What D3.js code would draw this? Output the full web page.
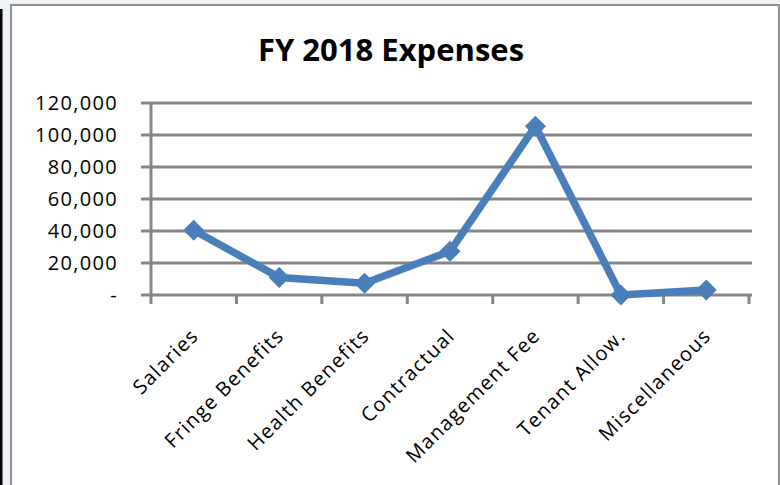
<!DOCTYPE html>
<html>
<head>
<meta charset="utf-8">
<script src="https://cdn.jsdelivr.net/npm/d3@7"></script>
<style>
  html, body { margin: 0; padding: 0; background: #eef2f8; }
  svg { display: block; }
</style>
</head>
<body>
<div id="chart"></div>
<script>
const categories = ["Salaries", "Fringe Benefits", "Health Benefits", "Contractual",
    "Management Fee", "Tenant Allow.", "Miscellaneous"];
const expenses = [40500, 11000, 7400, 27300, 105500, 0, 3100];
const yTicks = [0, 20000, 40000, 60000, 80000, 100000, 120000];

const W = 780, H = 485;
const margin = { top: 103, right: 31, bottom: 190, left: 151 },
    width = 749 - margin.left,
    height = 295 - margin.top;

const svg = d3.select("#chart").append("svg")
    .attr("width", W)
    .attr("height", H);

// window chrome around the chart
svg.append("rect")
    .attr("x", 0).attr("y", 9)
    .attr("width", 2.5).attr("height", H - 9)
    .attr("fill", "#000");
svg.append("rect")
    .attr("x", 11).attr("y", 5)
    .attr("width", W - 12).attr("height", H)
    .attr("fill", "#fff")
    .attr("stroke", "#8e8e8e")
    .attr("stroke-width", 2);

svg.append("text")
    .attr("x", 391)
    .attr("y", 61)
    .attr("text-anchor", "middle")
    .style("font-family", "'Open Sans', sans-serif")
    .style("font-weight", "bold")
    .style("font-size", "31px")
    .style("fill", "#000")
    .text("FY 2018 Expenses");

const g = svg.append("g")
    .attr("transform", "translate(" + margin.left + "," + margin.top + ")");

const x = d3.scaleBand()
    .domain(categories)
    .range([0, width]);

const y = d3.scaleLinear()
    .domain([0, 120000])
    .range([height, 0]);

// horizontal gridlines with the left tick stubs
g.append("g")
    .selectAll("line")
    .data(yTicks)
    .enter().append("line")
    .attr("x1", -10)
    .attr("x2", width + 3)
    .attr("y1", d => y(d))
    .attr("y2", d => y(d))
    .attr("stroke", "#868686")
    .attr("stroke-width", 3);

// y axis
const yAxis = g.append("g")
    .call(d3.axisLeft(y)
        .tickValues(yTicks)
        .tickSize(0)
        .tickPadding(33)
        .tickFormat(d => d === 0 ? "-" : d3.format(",")(d)));
yAxis.select(".domain")
    .attr("stroke", "#868686")
    .attr("stroke-width", 3)
    .attr("d", "M0," + (height + 9) + "V0");
yAxis.selectAll("text")
    .style("font-family", "'Open Sans', sans-serif")
    .style("font-size", "20px")
    .style("letter-spacing", "1.3px")
    .style("fill", "#000");

// x axis ticks on the category boundaries
const xAxis = g.append("g")
    .attr("transform", "translate(0," + height + ")");
xAxis.selectAll("line")
    .data(categories)
    .enter().append("line")
    .attr("x1", (d, i) => x.step() * (i + 1))
    .attr("x2", (d, i) => x.step() * (i + 1))
    .attr("y1", 0)
    .attr("y2", 9)
    .attr("stroke", "#868686")
    .attr("stroke-width", 3);

xAxis.selectAll("text")
    .data(categories)
    .enter().append("text")
    .attr("transform", d => "translate(" + (x(d) + x.bandwidth() / 2 + 6) + ",42) rotate(-45)")
    .attr("text-anchor", "end")
    .style("font-family", "'Open Sans', sans-serif")
    .style("font-size", "20px")
    .style("letter-spacing", "1.3px")
    .style("fill", "#000")
    .text(d => d);

const cx = d => x(d) + x.bandwidth() / 2;

const line = d3.line()
    .x((d, i) => cx(categories[i]))
    .y(d => y(d));

g.append("path")
    .datum(expenses)
    .attr("fill", "none")
    .attr("stroke", "#4a7ebb")
    .attr("stroke-width", 7.5)
    .attr("stroke-linejoin", "round")
    .attr("d", line);

g.append("g")
    .selectAll("path")
    .data(expenses)
    .enter().append("path")
    .attr("transform", (d, i) => "translate(" + cx(categories[i]) + "," + y(d) + ")")
    .attr("d", d3.symbol().type(d3.symbolDiamond2).size(210))
    .attr("fill", "#4a7ebb")
    .attr("stroke", "#4a7ebb")
    .attr("stroke-width", 2);
</script>
</body>
</html>
